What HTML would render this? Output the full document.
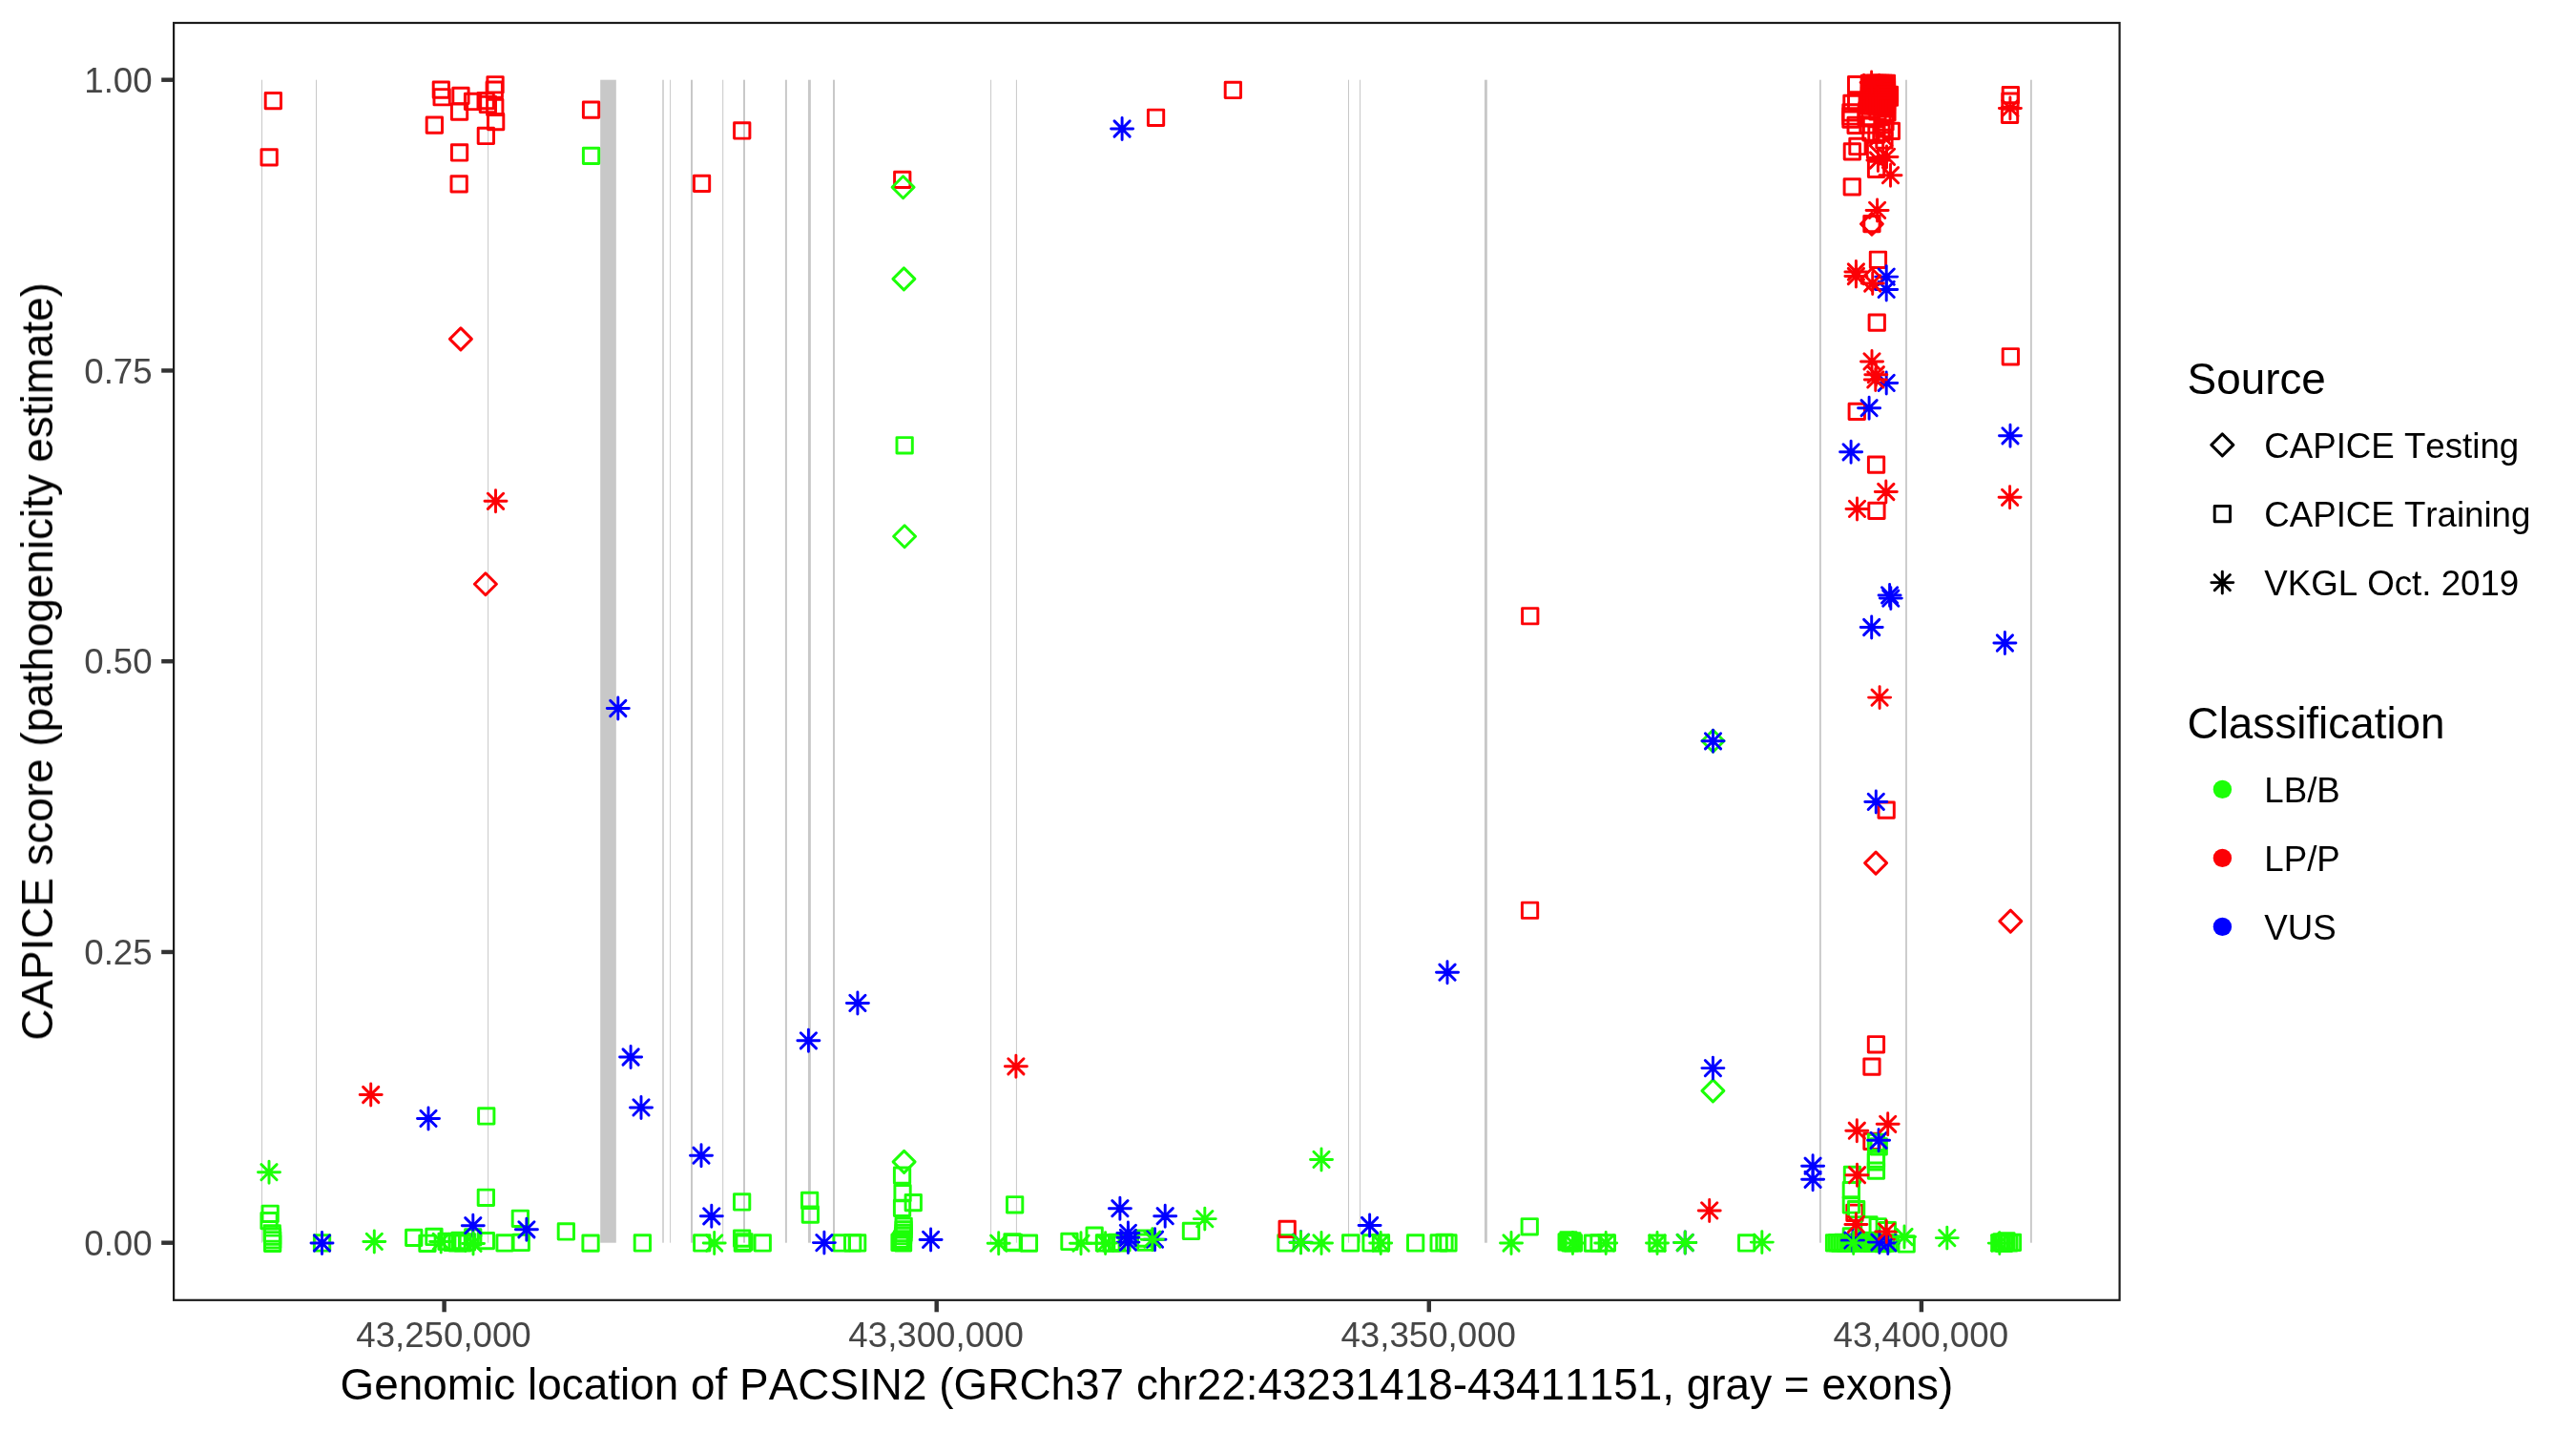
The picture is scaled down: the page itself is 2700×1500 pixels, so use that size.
<!DOCTYPE html><html><head><meta charset="utf-8"><title>CAPICE PACSIN2</title>
<style>html,body{margin:0;padding:0;background:#fff}svg{display:block}text{font-family:"Liberation Sans",sans-serif;font-kerning:none}</style></head><body>
<svg width="2700" height="1500" viewBox="0 0 2700 1500">
<rect width="2700" height="1500" fill="#fff"/>
<g fill="#C8C8C8">
<rect x="274.00" y="83.70" width="1.00" height="1219.00"/>
<rect x="331.00" y="83.70" width="1.00" height="1219.00"/>
<rect x="511.10" y="83.70" width="1.00" height="1219.00"/>
<rect x="629.20" y="83.70" width="16.60" height="1219.00"/>
<rect x="694.25" y="83.70" width="1.50" height="1219.00"/>
<rect x="702.05" y="83.70" width="0.90" height="1219.00"/>
<rect x="724.00" y="83.70" width="2.00" height="1219.00"/>
<rect x="757.20" y="83.70" width="1.00" height="1219.00"/>
<rect x="779.00" y="83.70" width="2.00" height="1219.00"/>
<rect x="822.90" y="83.70" width="2.00" height="1219.00"/>
<rect x="846.95" y="83.70" width="2.90" height="1219.00"/>
<rect x="873.00" y="83.70" width="2.00" height="1219.00"/>
<rect x="1038.10" y="83.70" width="1.00" height="1219.00"/>
<rect x="1064.90" y="83.70" width="1.00" height="1219.00"/>
<rect x="1413.00" y="83.70" width="1.00" height="1219.00"/>
<rect x="1425.00" y="83.70" width="1.00" height="1219.00"/>
<rect x="1555.95" y="83.70" width="2.90" height="1219.00"/>
<rect x="1907.00" y="83.70" width="1.80" height="1219.00"/>
<rect x="1997.10" y="83.70" width="1.80" height="1219.00"/>
<rect x="2127.95" y="83.70" width="1.90" height="1219.00"/>
</g>
<g fill="none" stroke-width="2.95" stroke-linecap="round" stroke-linejoin="round">
<rect x="278.2" y="97.4" width="16.3" height="16.3" stroke="#FC0006"/>
<rect x="274.0" y="156.7" width="16.3" height="16.3" stroke="#FC0006"/>
<rect x="454.2" y="86.0" width="16.3" height="16.3" stroke="#FC0006"/>
<rect x="455.0" y="93.6" width="16.3" height="16.3" stroke="#FC0006"/>
<rect x="474.8" y="92.3" width="16.3" height="16.3" stroke="#FC0006"/>
<rect x="473.4" y="108.9" width="16.3" height="16.3" stroke="#FC0006"/>
<rect x="447.2" y="122.9" width="16.3" height="16.3" stroke="#FC0006"/>
<rect x="473.4" y="151.8" width="16.3" height="16.3" stroke="#FC0006"/>
<rect x="473.0" y="184.7" width="16.3" height="16.3" stroke="#FC0006"/>
<rect x="487.4" y="98.3" width="16.3" height="16.3" stroke="#FC0006"/>
<rect x="501.0" y="97.4" width="16.3" height="16.3" stroke="#FC0006"/>
<rect x="503.2" y="101.3" width="16.3" height="16.3" stroke="#FC0006"/>
<rect x="510.9" y="80.6" width="16.3" height="16.3" stroke="#FC0006"/>
<rect x="510.1" y="85.9" width="16.3" height="16.3" stroke="#FC0006"/>
<rect x="510.6" y="104.2" width="16.3" height="16.3" stroke="#FC0006"/>
<rect x="511.5" y="119.4" width="16.3" height="16.3" stroke="#FC0006"/>
<rect x="501.2" y="134.3" width="16.3" height="16.3" stroke="#FC0006"/>
<rect x="611.4" y="107.0" width="16.3" height="16.3" stroke="#FC0006"/>
<rect x="727.4" y="184.2" width="16.3" height="16.3" stroke="#FC0006"/>
<rect x="769.6" y="128.8" width="16.3" height="16.3" stroke="#FC0006"/>
<rect x="937.6" y="180.2" width="16.3" height="16.3" stroke="#FC0006"/>
<rect x="1203.4" y="115.1" width="16.3" height="16.3" stroke="#FC0006"/>
<rect x="1284.2" y="86.3" width="16.3" height="16.3" stroke="#FC0006"/>
<rect x="1595.6" y="637.6" width="16.3" height="16.3" stroke="#FC0006"/>
<rect x="1595.4" y="946.1" width="16.3" height="16.3" stroke="#FC0006"/>
<rect x="2099.2" y="91.4" width="16.3" height="16.3" stroke="#FC0006"/>
<rect x="2098.8" y="97.9" width="16.3" height="16.3" stroke="#FC0006"/>
<rect x="2098.4" y="112.1" width="16.3" height="16.3" stroke="#FC0006"/>
<rect x="2099.2" y="365.6" width="16.3" height="16.3" stroke="#FC0006"/>
<rect x="1937.5" y="80.4" width="16.3" height="16.3" stroke="#FC0006"/>
<rect x="1932.8" y="100.3" width="16.3" height="16.3" stroke="#FC0006"/>
<rect x="1937.5" y="98.2" width="16.3" height="16.3" stroke="#FC0006"/>
<rect x="1931.8" y="109.8" width="16.3" height="16.3" stroke="#FC0006"/>
<rect x="1931.8" y="113.8" width="16.3" height="16.3" stroke="#FC0006"/>
<rect x="1931.8" y="117.0" width="16.3" height="16.3" stroke="#FC0006"/>
<rect x="1937.0" y="123.2" width="16.3" height="16.3" stroke="#FC0006"/>
<rect x="1938.8" y="145.3" width="16.3" height="16.3" stroke="#FC0006"/>
<rect x="1933.2" y="150.7" width="16.3" height="16.3" stroke="#FC0006"/>
<rect x="1933.1" y="187.7" width="16.3" height="16.3" stroke="#FC0006"/>
<rect x="1948.8" y="107.8" width="16.3" height="16.3" stroke="#FC0006"/>
<rect x="1959.8" y="108.8" width="16.3" height="16.3" stroke="#FC0006"/>
<rect x="1964.8" y="112.8" width="16.3" height="16.3" stroke="#FC0006"/>
<rect x="1969.8" y="109.8" width="16.3" height="16.3" stroke="#FC0006"/>
<rect x="1951.8" y="115.8" width="16.3" height="16.3" stroke="#FC0006"/>
<rect x="1967.8" y="119.8" width="16.3" height="16.3" stroke="#FC0006"/>
<rect x="1949.8" y="122.8" width="16.3" height="16.3" stroke="#FC0006"/>
<rect x="1966.8" y="126.8" width="16.3" height="16.3" stroke="#FC0006"/>
<rect x="1952.8" y="130.8" width="16.3" height="16.3" stroke="#FC0006"/>
<rect x="1958.8" y="132.8" width="16.3" height="16.3" stroke="#FC0006"/>
<rect x="1963.8" y="130.8" width="16.3" height="16.3" stroke="#FC0006"/>
<rect x="1974.2" y="129.2" width="16.3" height="16.3" stroke="#FC0006"/>
<rect x="1968.9" y="105.8" width="16.3" height="16.3" stroke="#FC0006"/>
<rect x="1957.4" y="149.2" width="16.3" height="16.3" stroke="#FC0006"/>
<rect x="1958.4" y="169.2" width="16.3" height="16.3" stroke="#FC0006"/>
<rect x="1966.8" y="138.8" width="16.3" height="16.3" stroke="#FC0006"/>
<rect x="1953.8" y="226.5" width="16.3" height="16.3" stroke="#FC0006"/>
<rect x="1960.3" y="264.1" width="16.3" height="16.3" stroke="#FC0006"/>
<rect x="1959.1" y="329.9" width="16.3" height="16.3" stroke="#FC0006"/>
<rect x="1938.1" y="423.2" width="16.3" height="16.3" stroke="#FC0006"/>
<rect x="1958.4" y="478.9" width="16.3" height="16.3" stroke="#FC0006"/>
<rect x="1958.8" y="527.2" width="16.3" height="16.3" stroke="#FC0006"/>
<rect x="1969.0" y="840.9" width="16.3" height="16.3" stroke="#FC0006"/>
<rect x="1958.3" y="1086.6" width="16.3" height="16.3" stroke="#FC0006"/>
<rect x="1953.8" y="1109.9" width="16.3" height="16.3" stroke="#FC0006"/>
<rect x="1953.8" y="1188.2" width="16.3" height="16.3" stroke="#FC0006"/>
<rect x="1935.8" y="1263.1" width="16.3" height="16.3" stroke="#FC0006"/>
<rect x="1951.3" y="79.3" width="16.3" height="16.3" stroke="#FC0006"/>
<rect x="1954.3" y="79.3" width="16.3" height="16.3" stroke="#FC0006"/>
<rect x="1957.3" y="79.3" width="16.3" height="16.3" stroke="#FC0006"/>
<rect x="1960.3" y="79.3" width="16.3" height="16.3" stroke="#FC0006"/>
<rect x="1963.3" y="79.3" width="16.3" height="16.3" stroke="#FC0006"/>
<rect x="1966.3" y="79.3" width="16.3" height="16.3" stroke="#FC0006"/>
<rect x="1969.3" y="79.3" width="16.3" height="16.3" stroke="#FC0006"/>
<rect x="1951.3" y="82.3" width="16.3" height="16.3" stroke="#FC0006"/>
<rect x="1954.3" y="82.3" width="16.3" height="16.3" stroke="#FC0006"/>
<rect x="1957.3" y="82.3" width="16.3" height="16.3" stroke="#FC0006"/>
<rect x="1960.3" y="82.3" width="16.3" height="16.3" stroke="#FC0006"/>
<rect x="1963.3" y="82.3" width="16.3" height="16.3" stroke="#FC0006"/>
<rect x="1966.3" y="82.3" width="16.3" height="16.3" stroke="#FC0006"/>
<rect x="1969.3" y="82.3" width="16.3" height="16.3" stroke="#FC0006"/>
<rect x="1951.3" y="85.3" width="16.3" height="16.3" stroke="#FC0006"/>
<rect x="1954.3" y="85.3" width="16.3" height="16.3" stroke="#FC0006"/>
<rect x="1957.3" y="85.3" width="16.3" height="16.3" stroke="#FC0006"/>
<rect x="1960.3" y="85.3" width="16.3" height="16.3" stroke="#FC0006"/>
<rect x="1963.3" y="85.3" width="16.3" height="16.3" stroke="#FC0006"/>
<rect x="1966.3" y="85.3" width="16.3" height="16.3" stroke="#FC0006"/>
<rect x="1969.3" y="85.3" width="16.3" height="16.3" stroke="#FC0006"/>
<rect x="1951.3" y="88.3" width="16.3" height="16.3" stroke="#FC0006"/>
<rect x="1954.3" y="88.3" width="16.3" height="16.3" stroke="#FC0006"/>
<rect x="1957.3" y="88.3" width="16.3" height="16.3" stroke="#FC0006"/>
<rect x="1960.3" y="88.3" width="16.3" height="16.3" stroke="#FC0006"/>
<rect x="1963.3" y="88.3" width="16.3" height="16.3" stroke="#FC0006"/>
<rect x="1966.3" y="88.3" width="16.3" height="16.3" stroke="#FC0006"/>
<rect x="1969.3" y="88.3" width="16.3" height="16.3" stroke="#FC0006"/>
<rect x="1951.3" y="91.3" width="16.3" height="16.3" stroke="#FC0006"/>
<rect x="1954.3" y="91.3" width="16.3" height="16.3" stroke="#FC0006"/>
<rect x="1957.3" y="91.3" width="16.3" height="16.3" stroke="#FC0006"/>
<rect x="1960.3" y="91.3" width="16.3" height="16.3" stroke="#FC0006"/>
<rect x="1963.3" y="91.3" width="16.3" height="16.3" stroke="#FC0006"/>
<rect x="1966.3" y="91.3" width="16.3" height="16.3" stroke="#FC0006"/>
<rect x="1969.3" y="91.3" width="16.3" height="16.3" stroke="#FC0006"/>
<rect x="1972.3" y="91.3" width="16.3" height="16.3" stroke="#FC0006"/>
<rect x="1951.3" y="94.1" width="16.3" height="16.3" stroke="#FC0006"/>
<rect x="1954.3" y="94.1" width="16.3" height="16.3" stroke="#FC0006"/>
<rect x="1957.3" y="94.1" width="16.3" height="16.3" stroke="#FC0006"/>
<rect x="1960.3" y="94.1" width="16.3" height="16.3" stroke="#FC0006"/>
<rect x="1963.3" y="94.1" width="16.3" height="16.3" stroke="#FC0006"/>
<rect x="1966.3" y="94.1" width="16.3" height="16.3" stroke="#FC0006"/>
<rect x="1969.3" y="94.1" width="16.3" height="16.3" stroke="#FC0006"/>
<rect x="1972.3" y="94.1" width="16.3" height="16.3" stroke="#FC0006"/>
<rect x="1951.3" y="96.8" width="16.3" height="16.3" stroke="#FC0006"/>
<rect x="1954.3" y="96.8" width="16.3" height="16.3" stroke="#FC0006"/>
<rect x="1957.3" y="96.8" width="16.3" height="16.3" stroke="#FC0006"/>
<rect x="1960.3" y="96.8" width="16.3" height="16.3" stroke="#FC0006"/>
<rect x="1963.3" y="96.8" width="16.3" height="16.3" stroke="#FC0006"/>
<rect x="1966.3" y="96.8" width="16.3" height="16.3" stroke="#FC0006"/>
<rect x="1969.3" y="96.8" width="16.3" height="16.3" stroke="#FC0006"/>
<rect x="1951.3" y="99.8" width="16.3" height="16.3" stroke="#FC0006"/>
<rect x="1954.3" y="99.8" width="16.3" height="16.3" stroke="#FC0006"/>
<rect x="1957.3" y="99.8" width="16.3" height="16.3" stroke="#FC0006"/>
<rect x="1960.3" y="99.8" width="16.3" height="16.3" stroke="#FC0006"/>
<rect x="1963.3" y="99.8" width="16.3" height="16.3" stroke="#FC0006"/>
<rect x="1966.3" y="99.8" width="16.3" height="16.3" stroke="#FC0006"/>
<rect x="1969.3" y="99.8" width="16.3" height="16.3" stroke="#FC0006"/>
<rect x="1951.3" y="102.8" width="16.3" height="16.3" stroke="#FC0006"/>
<rect x="1954.3" y="102.8" width="16.3" height="16.3" stroke="#FC0006"/>
<rect x="1957.3" y="102.8" width="16.3" height="16.3" stroke="#FC0006"/>
<rect x="1960.3" y="102.8" width="16.3" height="16.3" stroke="#FC0006"/>
<rect x="1963.3" y="102.8" width="16.3" height="16.3" stroke="#FC0006"/>
<rect x="1966.3" y="102.8" width="16.3" height="16.3" stroke="#FC0006"/>
<rect x="1969.3" y="102.8" width="16.3" height="16.3" stroke="#FC0006"/>
<rect x="611.4" y="155.2" width="16.3" height="16.3" stroke="#1CFF08"/>
<rect x="940.0" y="458.6" width="16.3" height="16.3" stroke="#1CFF08"/>
<rect x="501.6" y="1161.8" width="16.3" height="16.3" stroke="#1CFF08"/>
<rect x="501.2" y="1247.1" width="16.3" height="16.3" stroke="#1CFF08"/>
<rect x="537.2" y="1269.1" width="16.3" height="16.3" stroke="#1CFF08"/>
<rect x="585.2" y="1282.8" width="16.3" height="16.3" stroke="#1CFF08"/>
<rect x="610.9" y="1294.9" width="16.3" height="16.3" stroke="#1CFF08"/>
<rect x="275.0" y="1264.1" width="16.3" height="16.3" stroke="#1CFF08"/>
<rect x="273.9" y="1271.5" width="16.3" height="16.3" stroke="#1CFF08"/>
<rect x="277.1" y="1284.8" width="16.3" height="16.3" stroke="#1CFF08"/>
<rect x="277.4" y="1288.0" width="16.3" height="16.3" stroke="#1CFF08"/>
<rect x="277.5" y="1291.6" width="16.3" height="16.3" stroke="#1CFF08"/>
<rect x="277.5" y="1295.1" width="16.3" height="16.3" stroke="#1CFF08"/>
<rect x="329.4" y="1294.8" width="16.3" height="16.3" stroke="#1CFF08"/>
<rect x="425.6" y="1289.2" width="16.3" height="16.3" stroke="#1CFF08"/>
<rect x="439.8" y="1295.1" width="16.3" height="16.3" stroke="#1CFF08"/>
<rect x="446.8" y="1288.3" width="16.3" height="16.3" stroke="#1CFF08"/>
<rect x="459.9" y="1293.3" width="16.3" height="16.3" stroke="#1CFF08"/>
<rect x="465.9" y="1294.3" width="16.3" height="16.3" stroke="#1CFF08"/>
<rect x="470.9" y="1294.8" width="16.3" height="16.3" stroke="#1CFF08"/>
<rect x="473.9" y="1292.3" width="16.3" height="16.3" stroke="#1CFF08"/>
<rect x="476.9" y="1294.8" width="16.3" height="16.3" stroke="#1CFF08"/>
<rect x="481.4" y="1293.8" width="16.3" height="16.3" stroke="#1CFF08"/>
<rect x="487.6" y="1288.8" width="16.3" height="16.3" stroke="#1CFF08"/>
<rect x="501.2" y="1292.4" width="16.3" height="16.3" stroke="#1CFF08"/>
<rect x="520.9" y="1294.8" width="16.3" height="16.3" stroke="#1CFF08"/>
<rect x="538.1" y="1294.3" width="16.3" height="16.3" stroke="#1CFF08"/>
<rect x="665.2" y="1294.8" width="16.3" height="16.3" stroke="#1CFF08"/>
<rect x="727.6" y="1294.8" width="16.3" height="16.3" stroke="#1CFF08"/>
<rect x="769.5" y="1251.8" width="16.3" height="16.3" stroke="#1CFF08"/>
<rect x="769.5" y="1289.9" width="16.3" height="16.3" stroke="#1CFF08"/>
<rect x="770.2" y="1295.0" width="16.3" height="16.3" stroke="#1CFF08"/>
<rect x="771.9" y="1293.8" width="16.3" height="16.3" stroke="#1CFF08"/>
<rect x="791.1" y="1294.8" width="16.3" height="16.3" stroke="#1CFF08"/>
<rect x="840.5" y="1250.2" width="16.3" height="16.3" stroke="#1CFF08"/>
<rect x="841.2" y="1265.0" width="16.3" height="16.3" stroke="#1CFF08"/>
<rect x="873.9" y="1294.8" width="16.3" height="16.3" stroke="#1CFF08"/>
<rect x="885.5" y="1294.8" width="16.3" height="16.3" stroke="#1CFF08"/>
<rect x="890.5" y="1294.8" width="16.3" height="16.3" stroke="#1CFF08"/>
<rect x="937.4" y="1223.9" width="16.3" height="16.3" stroke="#1CFF08"/>
<rect x="937.9" y="1242.5" width="16.3" height="16.3" stroke="#1CFF08"/>
<rect x="949.1" y="1252.5" width="16.3" height="16.3" stroke="#1CFF08"/>
<rect x="937.4" y="1258.1" width="16.3" height="16.3" stroke="#1CFF08"/>
<rect x="939.0" y="1277.1" width="16.3" height="16.3" stroke="#1CFF08"/>
<rect x="938.9" y="1280.8" width="16.3" height="16.3" stroke="#1CFF08"/>
<rect x="938.9" y="1284.3" width="16.3" height="16.3" stroke="#1CFF08"/>
<rect x="938.4" y="1287.3" width="16.3" height="16.3" stroke="#1CFF08"/>
<rect x="937.4" y="1290.8" width="16.3" height="16.3" stroke="#1CFF08"/>
<rect x="936.1" y="1292.8" width="16.3" height="16.3" stroke="#1CFF08"/>
<rect x="934.9" y="1294.3" width="16.3" height="16.3" stroke="#1CFF08"/>
<rect x="938.4" y="1294.8" width="16.3" height="16.3" stroke="#1CFF08"/>
<rect x="1055.5" y="1254.6" width="16.3" height="16.3" stroke="#1CFF08"/>
<rect x="1054.3" y="1294.4" width="16.3" height="16.3" stroke="#1CFF08"/>
<rect x="1052.9" y="1293.8" width="16.3" height="16.3" stroke="#1CFF08"/>
<rect x="1070.3" y="1294.9" width="16.3" height="16.3" stroke="#1CFF08"/>
<rect x="1112.8" y="1293.3" width="16.3" height="16.3" stroke="#1CFF08"/>
<rect x="1139.0" y="1286.9" width="16.3" height="16.3" stroke="#1CFF08"/>
<rect x="1149.3" y="1294.8" width="16.3" height="16.3" stroke="#1CFF08"/>
<rect x="1156.8" y="1294.9" width="16.3" height="16.3" stroke="#1CFF08"/>
<rect x="1162.5" y="1294.3" width="16.3" height="16.3" stroke="#1CFF08"/>
<rect x="1167.8" y="1294.8" width="16.3" height="16.3" stroke="#1CFF08"/>
<rect x="1190.3" y="1290.0" width="16.3" height="16.3" stroke="#1CFF08"/>
<rect x="1192.6" y="1293.9" width="16.3" height="16.3" stroke="#1CFF08"/>
<rect x="1240.3" y="1282.3" width="16.3" height="16.3" stroke="#1CFF08"/>
<rect x="1339.8" y="1294.8" width="16.3" height="16.3" stroke="#1CFF08"/>
<rect x="1407.5" y="1294.8" width="16.3" height="16.3" stroke="#1CFF08"/>
<rect x="1428.9" y="1294.8" width="16.3" height="16.3" stroke="#1CFF08"/>
<rect x="1439.3" y="1294.8" width="16.3" height="16.3" stroke="#1CFF08"/>
<rect x="1475.5" y="1294.8" width="16.3" height="16.3" stroke="#1CFF08"/>
<rect x="1500.0" y="1294.8" width="16.3" height="16.3" stroke="#1CFF08"/>
<rect x="1505.8" y="1294.3" width="16.3" height="16.3" stroke="#1CFF08"/>
<rect x="1509.8" y="1294.8" width="16.3" height="16.3" stroke="#1CFF08"/>
<rect x="1595.1" y="1277.6" width="16.3" height="16.3" stroke="#1CFF08"/>
<rect x="1634.0" y="1293.8" width="16.3" height="16.3" stroke="#1CFF08"/>
<rect x="1635.8" y="1291.8" width="16.3" height="16.3" stroke="#1CFF08"/>
<rect x="1637.8" y="1294.8" width="16.3" height="16.3" stroke="#1CFF08"/>
<rect x="1639.8" y="1292.8" width="16.3" height="16.3" stroke="#1CFF08"/>
<rect x="1641.2" y="1294.8" width="16.3" height="16.3" stroke="#1CFF08"/>
<rect x="1661.3" y="1294.9" width="16.3" height="16.3" stroke="#1CFF08"/>
<rect x="1667.8" y="1294.8" width="16.3" height="16.3" stroke="#1CFF08"/>
<rect x="1676.2" y="1294.8" width="16.3" height="16.3" stroke="#1CFF08"/>
<rect x="1728.8" y="1294.9" width="16.3" height="16.3" stroke="#1CFF08"/>
<rect x="1822.5" y="1294.8" width="16.3" height="16.3" stroke="#1CFF08"/>
<rect x="1958.3" y="1189.2" width="16.3" height="16.3" stroke="#1CFF08"/>
<rect x="1961.1" y="1193.8" width="16.3" height="16.3" stroke="#1CFF08"/>
<rect x="1958.3" y="1206.9" width="16.3" height="16.3" stroke="#1CFF08"/>
<rect x="1958.3" y="1209.6" width="16.3" height="16.3" stroke="#1CFF08"/>
<rect x="1958.3" y="1219.0" width="16.3" height="16.3" stroke="#1CFF08"/>
<rect x="1933.3" y="1223.2" width="16.3" height="16.3" stroke="#1CFF08"/>
<rect x="1932.2" y="1239.5" width="16.3" height="16.3" stroke="#1CFF08"/>
<rect x="1932.2" y="1254.8" width="16.3" height="16.3" stroke="#1CFF08"/>
<rect x="1937.5" y="1259.4" width="16.3" height="16.3" stroke="#1CFF08"/>
<rect x="1932.2" y="1287.8" width="16.3" height="16.3" stroke="#1CFF08"/>
<rect x="1950.8" y="1275.8" width="16.3" height="16.3" stroke="#1CFF08"/>
<rect x="1960.1" y="1277.6" width="16.3" height="16.3" stroke="#1CFF08"/>
<rect x="1970.2" y="1281.5" width="16.3" height="16.3" stroke="#1CFF08"/>
<rect x="1990.0" y="1295.8" width="16.3" height="16.3" stroke="#1CFF08"/>
<rect x="2087.7" y="1294.8" width="16.3" height="16.3" stroke="#1CFF08"/>
<rect x="2089.8" y="1293.8" width="16.3" height="16.3" stroke="#1CFF08"/>
<rect x="2092.3" y="1295.1" width="16.3" height="16.3" stroke="#1CFF08"/>
<rect x="2094.8" y="1292.6" width="16.3" height="16.3" stroke="#1CFF08"/>
<rect x="2097.8" y="1294.8" width="16.3" height="16.3" stroke="#1CFF08"/>
<rect x="2101.3" y="1294.3" width="16.3" height="16.3" stroke="#1CFF08"/>
<rect x="1914.4" y="1294.6" width="16.3" height="16.3" stroke="#1CFF08"/>
<rect x="1917.4" y="1294.4" width="16.3" height="16.3" stroke="#1CFF08"/>
<rect x="1920.4" y="1295.0" width="16.3" height="16.3" stroke="#1CFF08"/>
<rect x="1923.4" y="1294.3" width="16.3" height="16.3" stroke="#1CFF08"/>
<rect x="1926.4" y="1294.9" width="16.3" height="16.3" stroke="#1CFF08"/>
<rect x="1929.4" y="1294.7" width="16.3" height="16.3" stroke="#1CFF08"/>
<rect x="1932.4" y="1294.3" width="16.3" height="16.3" stroke="#1CFF08"/>
<rect x="1935.4" y="1294.9" width="16.3" height="16.3" stroke="#1CFF08"/>
<rect x="1938.4" y="1294.3" width="16.3" height="16.3" stroke="#1CFF08"/>
<rect x="1941.4" y="1294.8" width="16.3" height="16.3" stroke="#1CFF08"/>
<rect x="1944.4" y="1294.3" width="16.3" height="16.3" stroke="#1CFF08"/>
<rect x="1947.4" y="1294.4" width="16.3" height="16.3" stroke="#1CFF08"/>
<rect x="1950.4" y="1294.8" width="16.3" height="16.3" stroke="#1CFF08"/>
<rect x="1953.4" y="1295.2" width="16.3" height="16.3" stroke="#1CFF08"/>
<rect x="1956.4" y="1294.4" width="16.3" height="16.3" stroke="#1CFF08"/>
<rect x="1959.4" y="1294.5" width="16.3" height="16.3" stroke="#1CFF08"/>
<rect x="1962.4" y="1295.0" width="16.3" height="16.3" stroke="#1CFF08"/>
<rect x="1965.4" y="1295.4" width="16.3" height="16.3" stroke="#1CFF08"/>
<rect x="1968.4" y="1294.9" width="16.3" height="16.3" stroke="#1CFF08"/>
<rect x="1971.4" y="1294.7" width="16.3" height="16.3" stroke="#1CFF08"/>
<rect x="1341.0" y="1280.3" width="16.3" height="16.3" stroke="#FC0006"/>
<path d="M471.4 355.4L482.9 343.9L494.4 355.4L482.9 366.9Z" stroke="#FC0006"/>
<path d="M497.4 612.3L508.9 600.8L520.4 612.3L508.9 623.8Z" stroke="#FC0006"/>
<path d="M1950.4 234.7L1961.9 223.2L1973.4 234.7L1961.9 246.2Z" stroke="#FC0006"/>
<path d="M1960.0 152.5L1971.5 141.0L1983.0 152.5L1971.5 164.0Z" stroke="#FC0006"/>
<path d="M1950.4 293.0L1961.9 281.5L1973.4 293.0L1961.9 304.5Z" stroke="#FC0006"/>
<path d="M1954.6 904.6L1966.1 893.1L1977.6 904.6L1966.1 916.1Z" stroke="#FC0006"/>
<path d="M2095.8 965.6L2107.3 954.1L2118.8 965.6L2107.3 977.1Z" stroke="#FC0006"/>
<path d="M935.1 196.3L946.6 184.8L958.1 196.3L946.6 207.8Z" stroke="#1CFF08"/>
<path d="M935.9 292.4L947.4 280.9L958.9 292.4L947.4 303.9Z" stroke="#1CFF08"/>
<path d="M936.6 562.3L948.1 550.8L959.6 562.3L948.1 573.8Z" stroke="#1CFF08"/>
<path d="M936.1 1217.9L947.6 1206.4L959.1 1217.9L947.6 1229.4Z" stroke="#1CFF08"/>
<path d="M1783.9 1143.4L1795.4 1131.9L1806.9 1143.4L1795.4 1154.9Z" stroke="#1CFF08"/>
<path d="M1784.0 776.8L1795.5 765.3L1807.0 776.8L1795.5 788.3Z" stroke="#1CFF08"/>
<path d="M1164.6 135.0H1187.6M1176.1 123.5V146.5M1168.0 126.9L1184.2 143.1M1168.0 143.1L1184.2 126.9" stroke="#0000FF"/>
<path d="M636.3 742.5H659.3M647.8 731.0V754.0M639.7 734.4L655.9 750.6M639.7 750.6L655.9 734.4" stroke="#0000FF"/>
<path d="M887.4 1051.4H910.4M898.9 1039.9V1062.9M890.8 1043.3L907.0 1059.5M890.8 1059.5L907.0 1043.3" stroke="#0000FF"/>
<path d="M835.9 1090.8H858.9M847.4 1079.3V1102.3M839.3 1082.7L855.5 1098.9M839.3 1098.9L855.5 1082.7" stroke="#0000FF"/>
<path d="M649.6 1108.0H672.6M661.1 1096.5V1119.5M653.0 1099.9L669.2 1116.1M653.0 1116.1L669.2 1099.9" stroke="#0000FF"/>
<path d="M660.5 1160.9H683.5M672.0 1149.4V1172.4M663.9 1152.8L680.1 1169.0M663.9 1169.0L680.1 1152.8" stroke="#0000FF"/>
<path d="M723.5 1211.2H746.5M735.0 1199.7V1222.7M726.9 1203.1L743.1 1219.3M726.9 1219.3L743.1 1203.1" stroke="#0000FF"/>
<path d="M734.3 1274.8H757.3M745.8 1263.3V1286.3M737.7 1266.7L753.9 1282.9M737.7 1282.9L753.9 1266.7" stroke="#0000FF"/>
<path d="M437.5 1172.4H460.5M449.0 1160.9V1183.9M440.9 1164.3L457.1 1180.5M440.9 1180.5L457.1 1164.3" stroke="#0000FF"/>
<path d="M484.3 1284.7H507.3M495.8 1273.2V1296.2M487.7 1276.6L503.9 1292.8M487.7 1292.8L503.9 1276.6" stroke="#0000FF"/>
<path d="M540.4 1288.8H563.4M551.9 1277.3V1300.3M543.8 1280.7L560.0 1296.9M543.8 1296.9L560.0 1280.7" stroke="#0000FF"/>
<path d="M326.0 1303.0H349.0M337.5 1291.5V1314.5M329.4 1294.9L345.6 1311.1M329.4 1311.1L345.6 1294.9" stroke="#0000FF"/>
<path d="M852.4 1302.6H875.4M863.9 1291.1V1314.1M855.8 1294.5L872.0 1310.7M855.8 1310.7L872.0 1294.5" stroke="#0000FF"/>
<path d="M964.1 1299.4H987.1M975.6 1287.9V1310.9M967.5 1291.3L983.7 1307.5M967.5 1307.5L983.7 1291.3" stroke="#0000FF"/>
<path d="M1162.4 1266.7H1185.4M1173.9 1255.2V1278.2M1165.8 1258.6L1182.0 1274.8M1165.8 1274.8L1182.0 1258.6" stroke="#0000FF"/>
<path d="M1209.7 1274.7H1232.7M1221.2 1263.2V1286.2M1213.1 1266.6L1229.3 1282.8M1213.1 1282.8L1229.3 1266.6" stroke="#0000FF"/>
<path d="M1170.9 1292.4H1193.9M1182.4 1280.9V1303.9M1174.3 1284.3L1190.5 1300.5M1174.3 1300.5L1190.5 1284.3" stroke="#0000FF"/>
<path d="M1170.9 1297.3H1193.9M1182.4 1285.8V1308.8M1174.3 1289.2L1190.5 1305.4M1174.3 1305.4L1190.5 1289.2" stroke="#0000FF"/>
<path d="M1170.9 1302.1H1193.9M1182.4 1290.6V1313.6M1174.3 1294.0L1190.5 1310.2M1174.3 1310.2L1190.5 1294.0" stroke="#0000FF"/>
<path d="M1199.0 1299.2H1222.0M1210.5 1287.7V1310.7M1202.4 1291.1L1218.6 1307.3M1202.4 1307.3L1218.6 1291.1" stroke="#0000FF"/>
<path d="M1352.0 1302.1H1375.0M1363.5 1290.6V1313.6M1355.4 1294.0L1371.6 1310.2M1355.4 1310.2L1371.6 1294.0" stroke="#0000FF"/>
<path d="M1424.1 1284.5H1447.1M1435.6 1273.0V1296.0M1427.5 1276.4L1443.7 1292.6M1427.5 1292.6L1443.7 1276.4" stroke="#0000FF"/>
<path d="M1505.5 1019.2H1528.5M1517.0 1007.7V1030.7M1508.9 1011.1L1525.1 1027.3M1508.9 1027.3L1525.1 1011.1" stroke="#0000FF"/>
<path d="M1754.7 1302.5H1777.7M1766.2 1291.0V1314.0M1758.1 1294.4L1774.3 1310.6M1758.1 1310.6L1774.3 1294.4" stroke="#0000FF"/>
<path d="M1784.0 776.8H1807.0M1795.5 765.3V788.3M1787.4 768.7L1803.6 784.9M1787.4 784.9L1803.6 768.7" stroke="#0000FF"/>
<path d="M1783.9 1119.6H1806.9M1795.4 1108.1V1131.1M1787.3 1111.5L1803.5 1127.7M1787.3 1127.7L1803.5 1111.5" stroke="#0000FF"/>
<path d="M1888.6 1222.2H1911.6M1900.1 1210.7V1233.7M1892.0 1214.1L1908.2 1230.3M1892.0 1230.3L1908.2 1214.1" stroke="#0000FF"/>
<path d="M1888.6 1236.3H1911.6M1900.1 1224.8V1247.8M1892.0 1228.2L1908.2 1244.4M1892.0 1244.4L1908.2 1228.2" stroke="#0000FF"/>
<path d="M1965.7 290.1H1988.7M1977.2 278.6V301.6M1969.1 282.0L1985.3 298.2M1969.1 298.2L1985.3 282.0" stroke="#0000FF"/>
<path d="M1965.7 303.4H1988.7M1977.2 291.9V314.9M1969.1 295.3L1985.3 311.5M1969.1 311.5L1985.3 295.3" stroke="#0000FF"/>
<path d="M1965.7 401.4H1988.7M1977.2 389.9V412.9M1969.1 393.3L1985.3 409.5M1969.1 409.5L1985.3 393.3" stroke="#0000FF"/>
<path d="M1947.6 427.7H1970.6M1959.1 416.2V439.2M1951.0 419.6L1967.2 435.8M1951.0 435.8L1967.2 419.6" stroke="#0000FF"/>
<path d="M1928.6 473.8H1951.6M1940.1 462.3V485.3M1932.0 465.7L1948.2 481.9M1932.0 481.9L1948.2 465.7" stroke="#0000FF"/>
<path d="M1969.1 623.9H1992.1M1980.6 612.4V635.4M1972.5 615.8L1988.7 632.0M1972.5 632.0L1988.7 615.8" stroke="#0000FF"/>
<path d="M1970.3 627.1H1993.3M1981.8 615.6V638.6M1973.7 619.0L1989.9 635.2M1973.7 635.2L1989.9 619.0" stroke="#0000FF"/>
<path d="M1950.2 657.5H1973.2M1961.7 646.0V669.0M1953.6 649.4L1969.8 665.6M1953.6 665.6L1969.8 649.4" stroke="#0000FF"/>
<path d="M1954.8 840.4H1977.8M1966.3 828.9V851.9M1958.2 832.3L1974.4 848.5M1958.2 848.5L1974.4 832.3" stroke="#0000FF"/>
<path d="M1957.6 1195.3H1980.6M1969.1 1183.8V1206.8M1961.0 1187.2L1977.2 1203.4M1961.0 1203.4L1977.2 1187.2" stroke="#0000FF"/>
<path d="M1930.4 1300.2H1953.4M1941.9 1288.7V1311.7M1933.8 1292.1L1950.0 1308.3M1933.8 1308.3L1950.0 1292.1" stroke="#0000FF"/>
<path d="M1958.4 1302.1H1981.4M1969.9 1290.6V1313.6M1961.8 1294.0L1978.0 1310.2M1961.8 1310.2L1978.0 1294.0" stroke="#0000FF"/>
<path d="M1967.3 1302.9H1990.3M1978.8 1291.4V1314.4M1970.7 1294.8L1986.9 1311.0M1970.7 1311.0L1986.9 1294.8" stroke="#0000FF"/>
<path d="M2095.5 456.8H2118.5M2107.0 445.3V468.3M2098.9 448.7L2115.1 464.9M2098.9 464.9L2115.1 448.7" stroke="#0000FF"/>
<path d="M2089.9 674.0H2112.9M2101.4 662.5V685.5M2093.3 665.9L2109.5 682.1M2093.3 682.1L2109.5 665.9" stroke="#0000FF"/>
<path d="M508.0 525.3H531.0M519.5 513.8V536.8M511.4 517.2L527.6 533.4M511.4 533.4L527.6 517.2" stroke="#FC0006"/>
<path d="M377.2 1147.5H400.2M388.7 1136.0V1159.0M380.6 1139.4L396.8 1155.6M380.6 1155.6L396.8 1139.4" stroke="#FC0006"/>
<path d="M1053.4 1117.8H1076.4M1064.9 1106.3V1129.3M1056.8 1109.7L1073.0 1125.9M1056.8 1125.9L1073.0 1109.7" stroke="#FC0006"/>
<path d="M1780.2 1268.9H1803.2M1791.7 1257.4V1280.4M1783.6 1260.8L1799.8 1277.0M1783.6 1277.0L1799.8 1260.8" stroke="#FC0006"/>
<path d="M1950.1 86.5H1973.1M1961.6 75.0V98.0M1953.5 78.4L1969.7 94.6M1953.5 94.6L1969.7 78.4" stroke="#FC0006"/>
<path d="M1966.0 164.4H1989.0M1977.5 152.9V175.9M1969.4 156.3L1985.6 172.5M1969.4 172.5L1985.6 156.3" stroke="#FC0006"/>
<path d="M1956.9 168.0H1979.9M1968.4 156.5V179.5M1960.3 159.9L1976.5 176.1M1960.3 176.1L1976.5 159.9" stroke="#FC0006"/>
<path d="M1970.0 183.7H1993.0M1981.5 172.2V195.2M1973.4 175.6L1989.6 191.8M1973.4 191.8L1989.6 175.6" stroke="#FC0006"/>
<path d="M1956.1 220.4H1979.1M1967.6 208.9V231.9M1959.5 212.3L1975.7 228.5M1959.5 228.5L1975.7 212.3" stroke="#FC0006"/>
<path d="M1933.9 285.0H1956.9M1945.4 273.5V296.5M1937.3 276.9L1953.5 293.1M1937.3 293.1L1953.5 276.9" stroke="#FC0006"/>
<path d="M1933.9 289.5H1956.9M1945.4 278.0V301.0M1937.3 281.4L1953.5 297.6M1937.3 297.6L1953.5 281.4" stroke="#FC0006"/>
<path d="M1951.2 297.0H1974.2M1962.7 285.5V308.5M1954.6 288.9L1970.8 305.1M1954.6 305.1L1970.8 288.9" stroke="#FC0006"/>
<path d="M1950.5 378.9H1973.5M1962.0 367.4V390.4M1953.9 370.8L1970.1 387.0M1953.9 387.0L1970.1 370.8" stroke="#FC0006"/>
<path d="M1954.8 392.7H1977.8M1966.3 381.2V404.2M1958.2 384.6L1974.4 400.8M1958.2 400.8L1974.4 384.6" stroke="#FC0006"/>
<path d="M1954.3 397.9H1977.3M1965.8 386.4V409.4M1957.7 389.8L1973.9 406.0M1957.7 406.0L1973.9 389.8" stroke="#FC0006"/>
<path d="M1965.3 515.5H1988.3M1976.8 504.0V527.0M1968.7 507.4L1984.9 523.6M1968.7 523.6L1984.9 507.4" stroke="#FC0006"/>
<path d="M1935.0 533.4H1958.0M1946.5 521.9V544.9M1938.4 525.3L1954.6 541.5M1938.4 541.5L1954.6 525.3" stroke="#FC0006"/>
<path d="M1958.6 731.1H1981.6M1970.1 719.6V742.6M1962.0 723.0L1978.2 739.2M1962.0 739.2L1978.2 723.0" stroke="#FC0006"/>
<path d="M1934.8 1185.2H1957.8M1946.3 1173.7V1196.7M1938.2 1177.1L1954.4 1193.3M1938.2 1193.3L1954.4 1177.1" stroke="#FC0006"/>
<path d="M1967.2 1178.3H1990.2M1978.7 1166.8V1189.8M1970.6 1170.2L1986.8 1186.4M1970.6 1186.4L1986.8 1170.2" stroke="#FC0006"/>
<path d="M1935.0 1231.7H1958.0M1946.5 1220.2V1243.2M1938.4 1223.6L1954.6 1239.8M1938.4 1239.8L1954.6 1223.6" stroke="#FC0006"/>
<path d="M1933.9 1283.4H1956.9M1945.4 1271.9V1294.9M1937.3 1275.3L1953.5 1291.5M1937.3 1291.5L1953.5 1275.3" stroke="#FC0006"/>
<path d="M1965.8 1290.9H1988.8M1977.3 1279.4V1302.4M1969.2 1282.8L1985.4 1299.0M1969.2 1299.0L1985.4 1282.8" stroke="#FC0006"/>
<path d="M2095.4 113.4H2118.4M2106.9 101.9V124.9M2098.8 105.3L2115.0 121.5M2098.8 121.5L2115.0 105.3" stroke="#FC0006"/>
<path d="M2095.1 521.3H2118.1M2106.6 509.8V532.8M2098.5 513.2L2114.7 529.4M2098.5 529.4L2114.7 513.2" stroke="#FC0006"/>
<path d="M270.5 1228.7H293.5M282.0 1217.2V1240.2M273.9 1220.6L290.1 1236.8M273.9 1236.8L290.1 1220.6" stroke="#1CFF08"/>
<path d="M380.8 1301.4H403.8M392.3 1289.9V1312.9M384.2 1293.3L400.4 1309.5M384.2 1309.5L400.4 1293.3" stroke="#1CFF08"/>
<path d="M450.7 1301.4H473.7M462.2 1289.9V1312.9M454.1 1293.3L470.3 1309.5M454.1 1309.5L470.3 1293.3" stroke="#1CFF08"/>
<path d="M484.5 1303.4H507.5M496.0 1291.9V1314.9M487.9 1295.3L504.1 1311.5M487.9 1311.5L504.1 1295.3" stroke="#1CFF08"/>
<path d="M737.2 1303.0H760.2M748.7 1291.5V1314.5M740.6 1294.9L756.8 1311.1M740.6 1311.1L756.8 1294.9" stroke="#1CFF08"/>
<path d="M1035.2 1303.2H1058.2M1046.7 1291.7V1314.7M1038.6 1295.1L1054.8 1311.3M1038.6 1311.3L1054.8 1295.1" stroke="#1CFF08"/>
<path d="M1121.5 1303.2H1144.5M1133.0 1291.7V1314.7M1124.9 1295.1L1141.1 1311.3M1124.9 1311.3L1141.1 1295.1" stroke="#1CFF08"/>
<path d="M1147.1 1303.1H1170.1M1158.6 1291.6V1314.6M1150.5 1295.0L1166.7 1311.2M1150.5 1311.2L1166.7 1295.0" stroke="#1CFF08"/>
<path d="M1196.3 1299.2H1219.3M1207.8 1287.7V1310.7M1199.7 1291.1L1215.9 1307.3M1199.7 1307.3L1215.9 1291.1" stroke="#1CFF08"/>
<path d="M1251.3 1277.6H1274.3M1262.8 1266.1V1289.1M1254.7 1269.5L1270.9 1285.7M1254.7 1285.7L1270.9 1269.5" stroke="#1CFF08"/>
<path d="M1373.5 1215.4H1396.5M1385.0 1203.9V1226.9M1376.9 1207.3L1393.1 1223.5M1376.9 1223.5L1393.1 1207.3" stroke="#1CFF08"/>
<path d="M1352.0 1302.5H1375.0M1363.5 1291.0V1314.0M1355.4 1294.4L1371.6 1310.6M1355.4 1310.6L1371.6 1294.4" stroke="#1CFF08"/>
<path d="M1373.5 1303.0H1396.5M1385.0 1291.5V1314.5M1376.9 1294.9L1393.1 1311.1M1376.9 1311.1L1393.1 1294.9" stroke="#1CFF08"/>
<path d="M1435.7 1303.0H1458.7M1447.2 1291.5V1314.5M1439.1 1294.9L1455.3 1311.1M1439.1 1311.1L1455.3 1294.9" stroke="#1CFF08"/>
<path d="M1572.5 1303.0H1595.5M1584.0 1291.5V1314.5M1575.9 1294.9L1592.1 1311.1M1575.9 1311.1L1592.1 1294.9" stroke="#1CFF08"/>
<path d="M1636.9 1302.9H1659.9M1648.4 1291.4V1314.4M1640.3 1294.8L1656.5 1311.0M1640.3 1311.0L1656.5 1294.8" stroke="#1CFF08"/>
<path d="M1671.7 1302.9H1694.7M1683.2 1291.4V1314.4M1675.1 1294.8L1691.3 1311.0M1675.1 1311.0L1691.3 1294.8" stroke="#1CFF08"/>
<path d="M1725.5 1303.0H1748.5M1737.0 1291.5V1314.5M1728.9 1294.9L1745.1 1311.1M1728.9 1311.1L1745.1 1294.9" stroke="#1CFF08"/>
<path d="M1754.7 1302.5H1777.7M1766.2 1291.0V1314.0M1758.1 1294.4L1774.3 1310.6M1758.1 1310.6L1774.3 1294.4" stroke="#1CFF08"/>
<path d="M1835.3 1302.1H1858.3M1846.8 1290.6V1313.6M1838.7 1294.0L1854.9 1310.2M1838.7 1310.2L1854.9 1294.0" stroke="#1CFF08"/>
<path d="M1931.2 1302.9H1954.2M1942.7 1291.4V1314.4M1934.6 1294.8L1950.8 1311.0M1934.6 1311.0L1950.8 1294.8" stroke="#1CFF08"/>
<path d="M1984.5 1296.5H2007.5M1996.0 1285.0V1308.0M1987.9 1288.4L2004.1 1304.6M1987.9 1304.6L2004.1 1288.4" stroke="#1CFF08"/>
<path d="M2029.3 1297.6H2052.3M2040.8 1286.1V1309.1M2032.7 1289.5L2048.9 1305.7M2032.7 1305.7L2048.9 1289.5" stroke="#1CFF08"/>
<path d="M2084.3 1303.1H2107.3M2095.8 1291.6V1314.6M2087.7 1295.0L2103.9 1311.2M2087.7 1311.2L2103.9 1295.0" stroke="#1CFF08"/>
</g>
<rect x="182.1" y="24.0" width="2039.5" height="1338.8" fill="none" stroke="#1c1c1c" stroke-width="2.2"/>
<g stroke="#333333" stroke-width="4.45">
<line x1="169.2" x2="181" y1="1302.70" y2="1302.70"/>
<line x1="169.2" x2="181" y1="997.95" y2="997.95"/>
<line x1="169.2" x2="181" y1="693.20" y2="693.20"/>
<line x1="169.2" x2="181" y1="388.45" y2="388.45"/>
<line x1="169.2" x2="181" y1="83.70" y2="83.70"/>
<line x1="465.6" x2="465.6" y1="1363.8" y2="1375.3"/>
<line x1="981.7" x2="981.7" y1="1363.8" y2="1375.3"/>
<line x1="1497.8" x2="1497.8" y1="1363.8" y2="1375.3"/>
<line x1="2013.9" x2="2013.9" y1="1363.8" y2="1375.3"/>
</g>
<g font-size="36.67" fill="#464646" style="filter:grayscale(1)">
<text x="159.6" y="1315.90" text-anchor="end">0.00</text>
<text x="159.6" y="1011.15" text-anchor="end">0.25</text>
<text x="159.6" y="706.40" text-anchor="end">0.50</text>
<text x="159.6" y="401.65" text-anchor="end">0.75</text>
<text x="159.6" y="96.90" text-anchor="end">1.00</text>
<text x="465.0" y="1412" text-anchor="middle">43,250,000</text>
<text x="981.1" y="1412" text-anchor="middle">43,300,000</text>
<text x="1497.2" y="1412" text-anchor="middle">43,350,000</text>
<text x="2013.3000000000002" y="1412" text-anchor="middle">43,400,000</text>
</g>
<g font-size="45.83" fill="#000" style="filter:grayscale(1)">
<text x="1201.9" y="1466.5" text-anchor="middle" letter-spacing="0.04">Genomic location of PACSIN2 (GRCh37 chr22:43231418-43411151, gray = exons)</text>
<text transform="translate(55,693.4) rotate(-90)" text-anchor="middle">CAPICE score (pathogenicity estimate)</text>
<text x="2292.6" y="412.7">Source</text>
<text x="2292.6" y="773.8">Classification</text>
</g>
<g font-size="36.67" fill="#000" style="filter:grayscale(1)">
<text x="2373.3" y="480.2">CAPICE Testing</text>
<text x="2373.3" y="552.1">CAPICE Training</text>
<text x="2373.3" y="624.1">VKGL Oct. 2019</text>
<text x="2373.3" y="840.9">LB/B</text>
<text x="2373.3" y="913.1">LP/P</text>
<text x="2373.3" y="985.2">VUS</text>
</g>
<g fill="none" stroke-width="2.95" stroke-linecap="round" stroke-linejoin="round">
<path d="M2317.8 466.4L2329.3 454.9L2340.8 466.4L2329.3 477.9Z" stroke="#000"/>
<rect x="2321.2" y="530.4" width="16.3" height="16.3" stroke="#000"/>
<path d="M2317.8 610.6H2340.8M2329.3 599.1V622.1M2321.2 602.5L2337.4 618.7M2321.2 618.7L2337.4 602.5" stroke="#000"/>
</g>
<circle cx="2329.4" cy="827.4" r="9.7" fill="#1CFF08"/>
<circle cx="2329.4" cy="899.4" r="9.7" fill="#FC0006"/>
<circle cx="2329.4" cy="971.4" r="9.7" fill="#0000FF"/>
</svg></body></html>
